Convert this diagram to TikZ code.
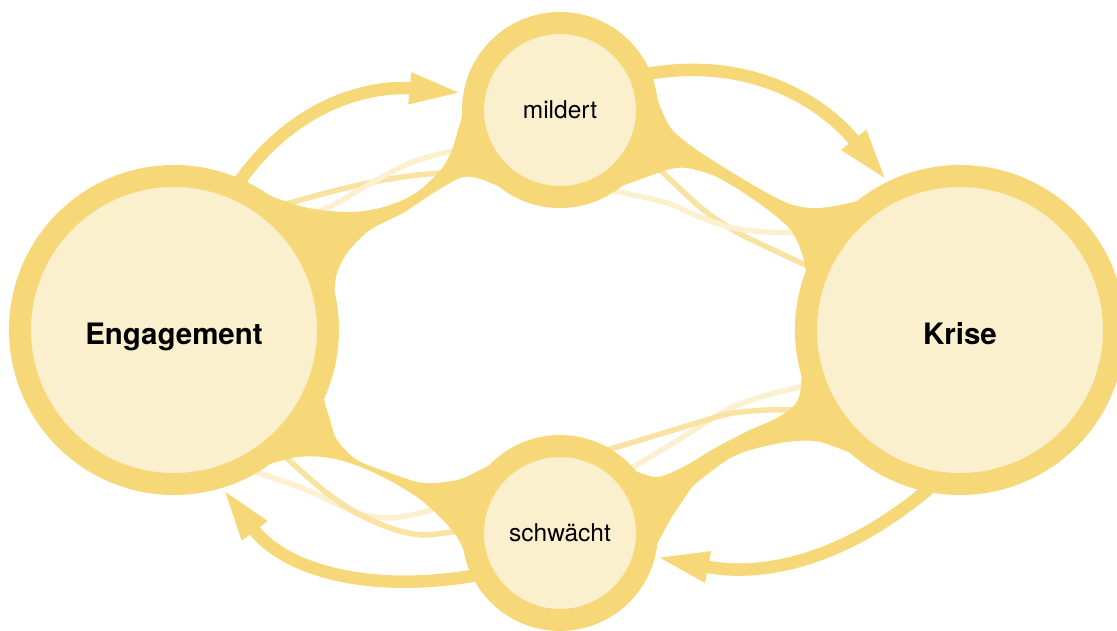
\documentclass[tikz,border=0pt]{standalone}
\usepackage{fontspec}
\setmainfont{TeX Gyre Heros}
\usetikzlibrary{arrows.meta}
\definecolor{ring}{HTML}{F6D878}
\definecolor{core}{HTML}{FBF0CE}
\definecolor{strandA}{HTML}{F8E3A2}
\definecolor{strandB}{HTML}{FBF0CF}
\tikzset{
 hub/.style={circle,draw=ring,fill=core,line width=22pt,minimum size=308pt,inner sep=0pt,
  font=\fontsize{29.5}{34}\selectfont\bfseries,text height=30pt,text depth=0pt},
 link/.style={circle,draw=ring,fill=core,line width=22pt,minimum size=174pt,inner sep=0pt,
  font=\fontsize{24.5}{29}\selectfont},
 flow/.style={ring,line width=12.5pt,-{Triangle[length=54pt,width=28pt]},shorten <=-4pt},
 strand/.style={line width=5.5pt},
 neck/.style={fill=ring}
}
\begin{document}
\begin{tikzpicture}[x=1pt,y=1pt]
 \useasboundingbox (0,0) rectangle (1117,630);
 \clip (0,0) rectangle (1117,630);
 \coordinate (engc) at (174,300);
 \coordinate (kric) at (960,300);
 \coordinate (milc) at (560,520);
 \coordinate (schc) at (560,97);
 % pale strands
 \draw[strand,strandA] plot[smooth] coordinates {(282,425)(330,438)(373,448)(417,455)(458,458)};
 \draw[strand,strandB] plot[smooth] coordinates {(305,412)(337,427)(373,448)(410,467)(443,477)(462,480)};
 \draw[strand,strandA] plot[smooth] coordinates {(655,465)(700,423)(733,400)(767,383)(812,362)};
 \draw[strand,strandB] plot[smooth] coordinates {(610,440)(667,427)(700,413)(733,402)(767,398)(805,397)};
 \draw[strand,strandB] plot[smooth] coordinates {(810,245)(767,235)(733,223)(713,212)(683,193)(650,173)(628,160)};
 \draw[strand,strandA] plot[smooth] coordinates {(803,220)(767,220)(733,217)(713,212)(667,198)(617,183)(598,178)};
 \draw[strand,strandB] plot[smooth] coordinates {(250,160)(307,140)(357,117)(390,112)(425,118)(445,127)};
 \draw[strand,strandA] plot[smooth] coordinates {(280,178)(323,140)(357,117)(390,102)(423,95)(465,100)};
 % necks between the circles
 \fill[neck] (engc) -- plot[smooth] coordinates {(232,449)(290,427)(320,420)(353,418)(380,422)(403,430)(420,440)(433,452)(443,463)(452,480)(458,500)(463,517)(467,537)(473,560)}
  -- (milc) -- plot[smooth] coordinates {(520,432)(500,443)(477,452)(460,452)(430,435)(403,417)(370,400)(347,377)(337,357)(335,345)(334,330)} -- cycle;
 \fill[neck] (milc) -- plot[smooth] coordinates {(653,542)(670,503)(697,480)(733,457)(767,437)(793,425)(820,422)(860,430)(887,447)(922,457)}
  -- (kric) -- plot[smooth] coordinates {(806,330)(807,350)(803,373)(793,397)(777,413)(750,433)(717,453)(687,462)(667,460)(633,448)(612,441)} -- cycle;
 \fill[neck] (kric) -- plot[smooth] coordinates {(802,260)(800,237)(793,223)(773,210)(750,200)(717,183)(683,163)(657,153)(633,160)(620,168)}
  -- (schc) -- plot[smooth] coordinates {(654,82)(662,95)(670,110)(690,140)(700,150)(727,170)(750,180)(787,188)(820,188)(867,170)(900,152)(917,143)} -- cycle;
 \fill[neck] (engc) -- plot[smooth] coordinates {(322,237)(330,210)(337,190)(357,170)(390,157)(423,147)(457,150)(480,160)(517,180)(530,186)}
  -- (schc) -- plot[smooth] coordinates {(470,67)(457,93)(440,113)(417,133)(383,153)(350,167)(323,173)(297,173)(273,167)(262,164)} -- cycle;
 % circles
 \node[hub] (eng) at (engc) {Engagement};
 \node[hub] (kri) at (kric) {Krise};
 \node[link] (mil) at (milc) {mildert};
 \node[link] (sch) at (schc) {schwächt};
 % arrows
 \draw[flow] (eng.66) to[out=55,in=175] (mil.170);
 \draw[flow] (mil.22) to[out=10,in=129] (kri.116);
 \draw[flow] (kri.258) to[out=220,in=349] (sch.346);
 \draw[flow] (sch.206) to[out=190,in=307] (eng.287);
\end{tikzpicture}
\end{document}
